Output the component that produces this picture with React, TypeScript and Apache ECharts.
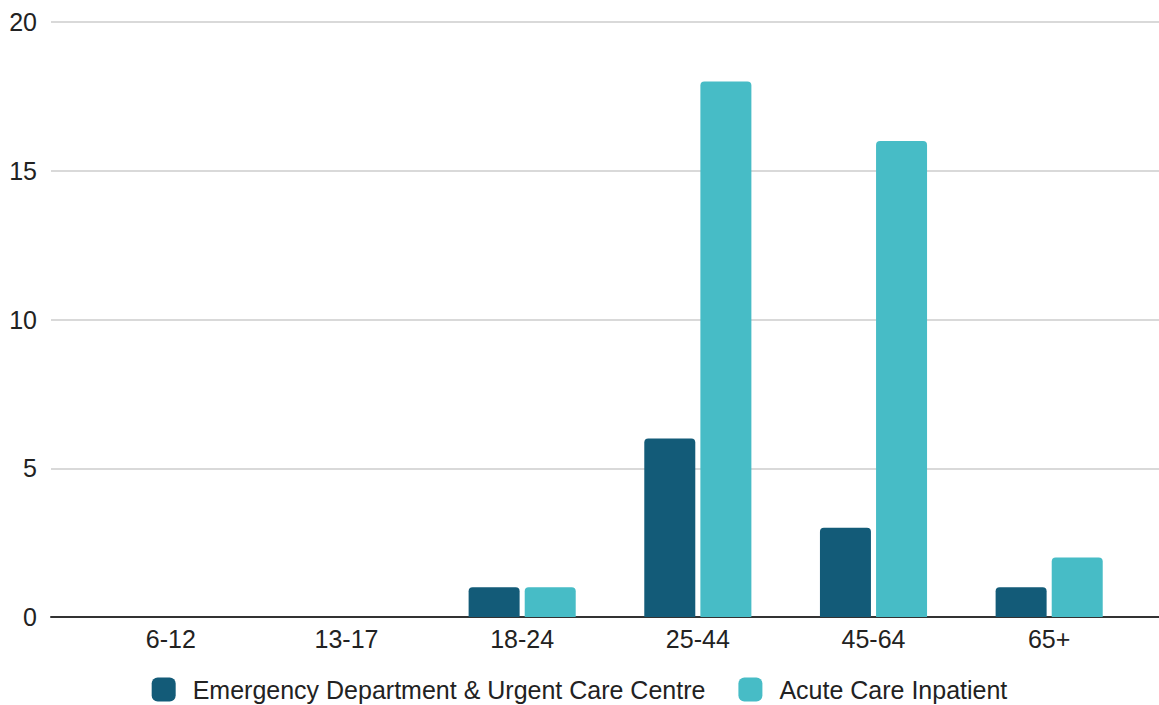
import React, { useEffect, useRef } from "react";
import * as echarts from "echarts";

const ageGroups = ["6-12", "13-17", "18-24", "25-44", "45-64", "65+"];
const emergencyVisits = [0, 0, 1, 6, 3, 1];
const acuteInpatient = [0, 0, 1, 18, 16, 2];
const seriesNames = ["Emergency Department & Urgent Care Centre", "Acute Care Inpatient"];
const seriesColors = ["#135b78", "#47bcc6"];

const FONT = "'Liberation Sans', Arial, sans-serif";

export default function App() {
  const ref = useRef<HTMLDivElement>(null);

  useEffect(() => {
    if (!ref.current) return;
    const chart = echarts.init(ref.current, undefined, { renderer: "svg" });
    chart.setOption({
      animation: false,
      textStyle: { fontFamily: FONT },
      grid: [
        // full-width frame carrying the value scale, gridlines and baseline
        { left: 51, right: 0, top: 22, bottom: 88 },
        // inner area where the category bars sit
        { left: 83, right: 22, top: 22, bottom: 88 },
      ],
      xAxis: [
        {
          gridIndex: 0,
          type: "value",
          min: 0,
          max: 1,
          axisLine: { show: true, onZero: false, lineStyle: { color: "#333", width: 2 } },
          axisTick: { show: false },
          axisLabel: { show: false },
          splitLine: { show: false },
        },
        {
          gridIndex: 1,
          type: "category",
          data: ageGroups,
          axisLine: { show: false },
          axisTick: { show: false },
          axisLabel: { color: "#222", fontSize: 25, margin: 9, fontFamily: FONT },
        },
      ],
      yAxis: [
        {
          gridIndex: 0,
          type: "value",
          min: 0,
          max: 20,
          interval: 5,
          axisLine: { show: false },
          axisTick: { show: false },
          axisLabel: { color: "#222", fontSize: 25, margin: 14, fontFamily: FONT },
          splitLine: { lineStyle: { color: "#cccccc", width: 1.5 } },
        },
        {
          gridIndex: 1,
          type: "value",
          min: 0,
          max: 20,
          interval: 5,
          show: false,
          splitLine: { show: false },
        },
      ],
      legend: {
        bottom: -2,
        left: "center",
        itemWidth: 24,
        itemHeight: 24,
        itemGap: 33,
        icon: "roundRect",
        data: seriesNames,
        textStyle: { color: "#222", fontSize: 25, fontFamily: FONT, padding: [0, 0, 0, 12] },
      },
      series: [
        {
          name: seriesNames[0],
          type: "bar",
          xAxisIndex: 1,
          yAxisIndex: 1,
          data: emergencyVisits,
          barWidth: 51,
          barGap: "10%",
          itemStyle: { color: seriesColors[0], borderRadius: [4, 4, 0, 0] },
        },
        {
          name: seriesNames[1],
          type: "bar",
          xAxisIndex: 1,
          yAxisIndex: 1,
          data: acuteInpatient,
          barWidth: 51,
          barGap: "10%",
          itemStyle: { color: seriesColors[1], borderRadius: [4, 4, 0, 0] },
        },
      ],
    });
    return () => chart.dispose();
  }, []);

  return (
    <div
      ref={ref}
      style={{ position: "fixed", left: 0, top: 0, width: 1159, height: 705, background: "#fff" }}
    />
  );
}
